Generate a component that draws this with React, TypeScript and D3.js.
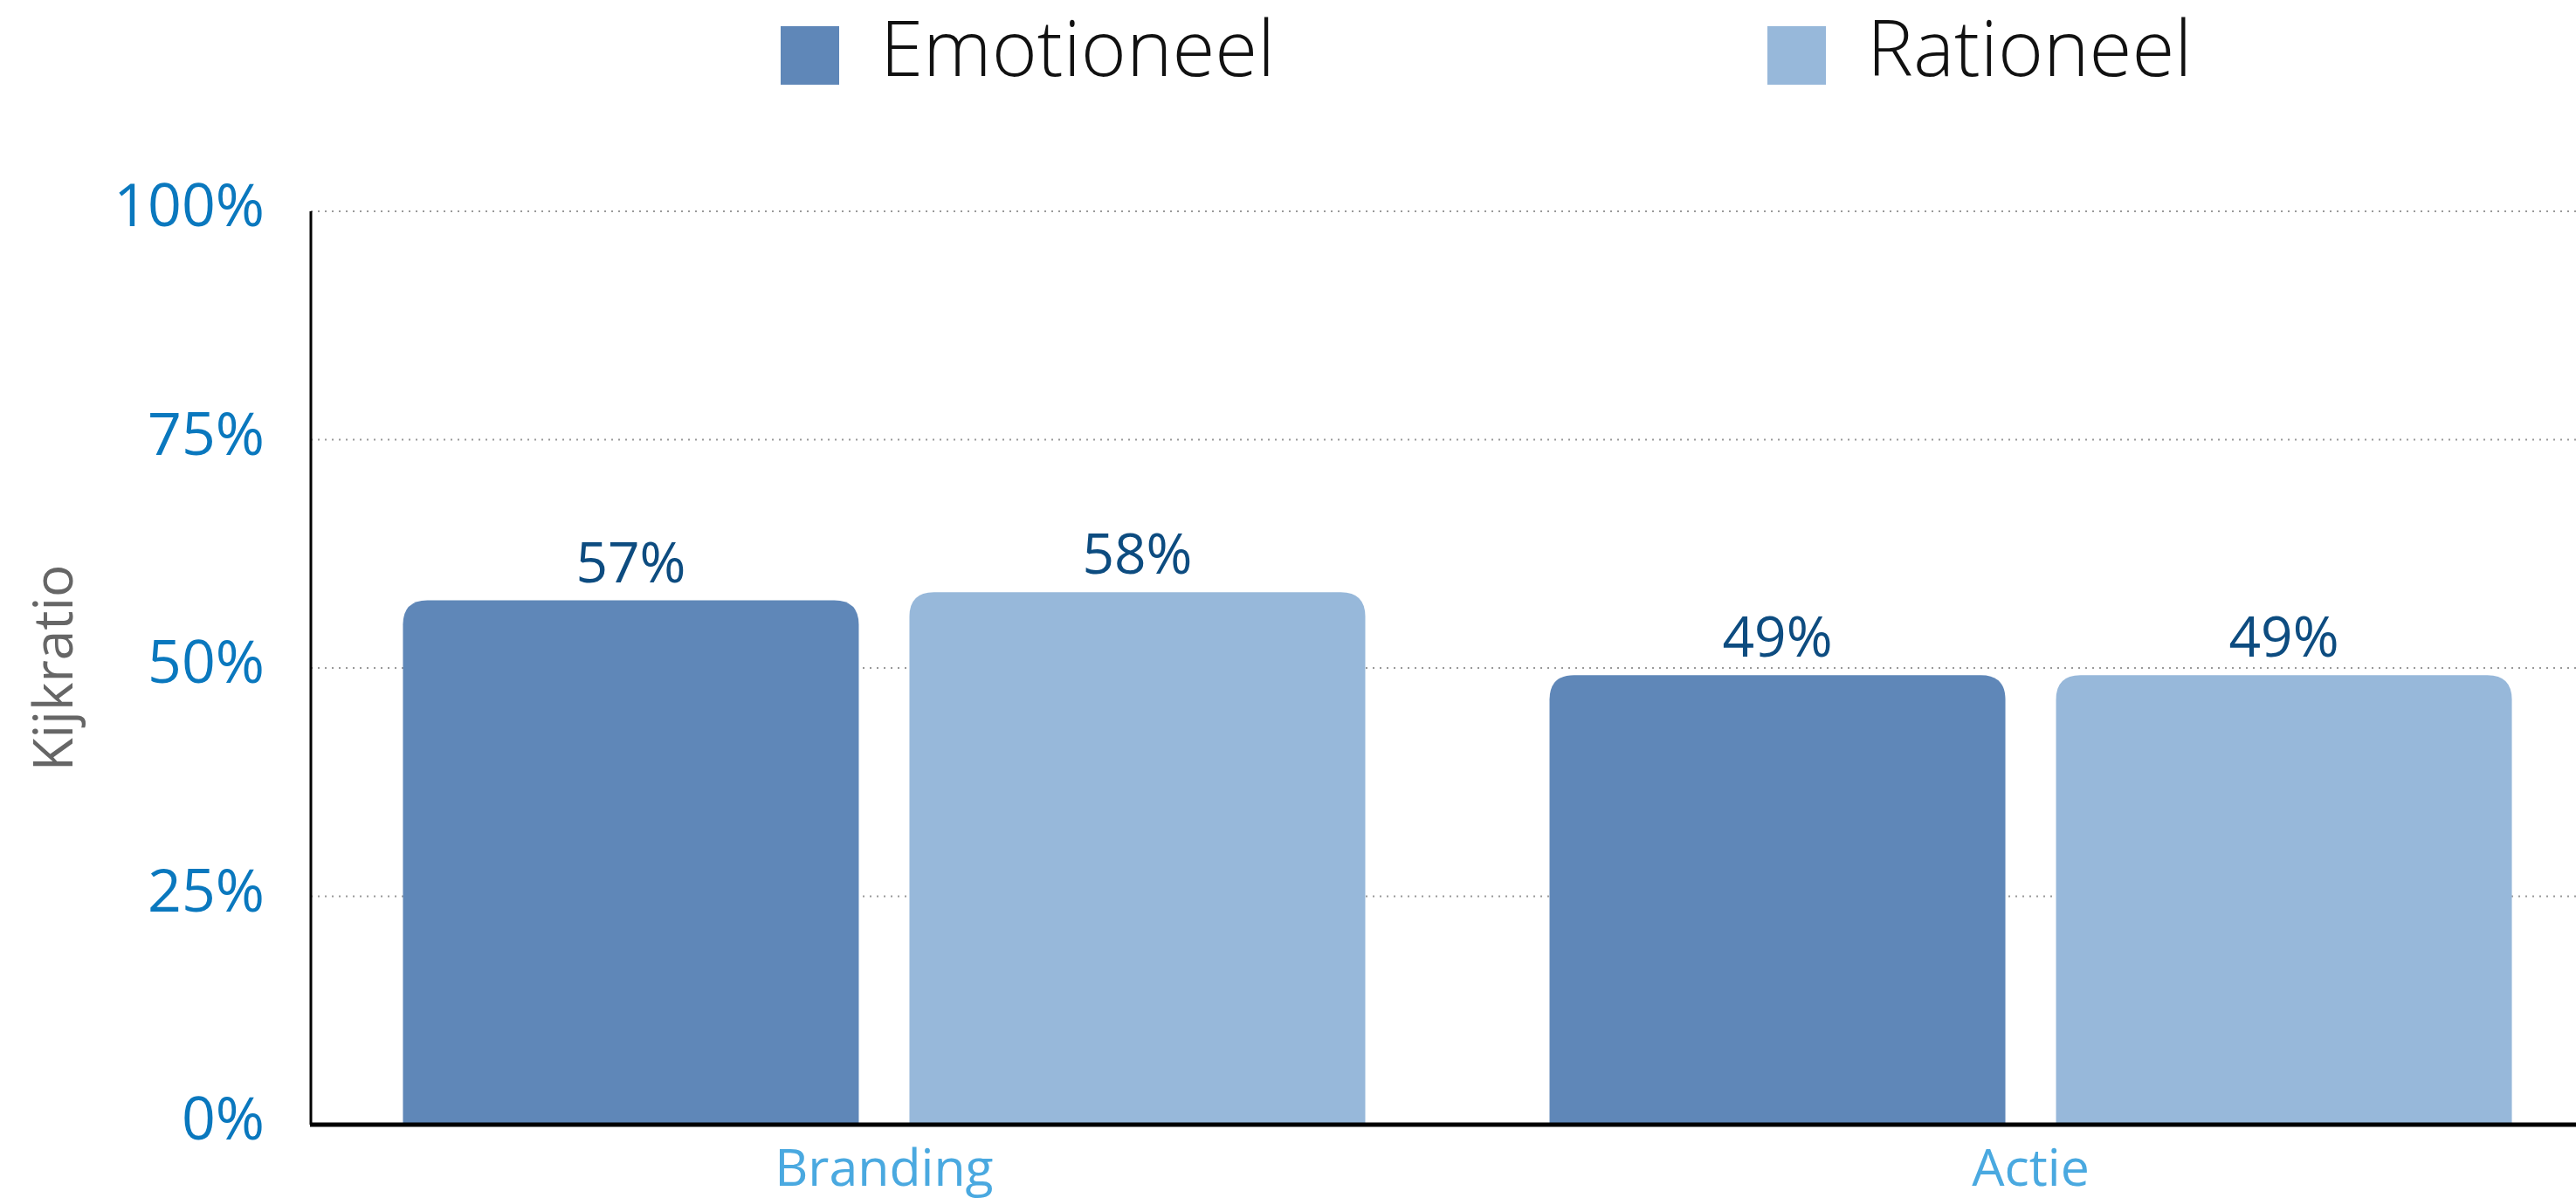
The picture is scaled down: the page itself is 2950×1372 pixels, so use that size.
import React from "react";
import * as d3 from "d3";

const categories = ["Branding", "Actie"];
const seriesNames = ["Emotioneel", "Rationeel"];
const emotioneelValues = [57.4, 49.2];
const rationeelValues = [58.3, 49.2];
const yTicks = [0, 25, 50, 75, 100];
const seriesColors = ["#5f87b8", "#97b8da"];

const W = 2950;
const H = 1372;
const margin = { left: 356, right: -32, top: 242, bottom: 84 };
const FONT = "'Open Sans', 'Noto Sans', sans-serif";
const LIGHT_FONT = "'Open Sans Light', 'Lato Light', 'Open Sans', sans-serif";

function topRoundedRect(x: number, y: number, w: number, h: number, r: number) {
  const rr = Math.min(r, w / 2, h);
  return `M${x},${y + h}V${y + rr}Q${x},${y} ${x + rr},${y}H${x + w - rr}Q${x + w},${y} ${x + w},${y + rr}V${y + h}Z`;
}

export default function App() {
  const x0 = d3
    .scaleBand<string>()
    .domain(categories)
    .range([margin.left, W - margin.right])
    .paddingInner(0.1607)
    .paddingOuter(0.0803);
  const x1 = d3
    .scaleBand<string>()
    .domain(seriesNames)
    .range([0, x0.bandwidth()])
    .paddingInner(0.1)
    .paddingOuter(0);
  const y = d3.scaleLinear().domain([0, 100]).range([H - margin.bottom, margin.top]);

  const data = categories.map((c, i) => ({
    cat: c,
    vals: [emotioneelValues[i], rationeelValues[i]],
  }));

  const legendX = [894, 2024];

  return (
    <svg
      width={W}
      height={H}
      style={{ position: "absolute", left: 0, top: 0, background: "#fff" }}
      fontFamily={FONT}
    >
      {/* legend */}
      {seriesNames.map((s, i) => (
        <g key={s}>
          <rect x={legendX[i]} y={30} width={67} height={67} fill={seriesColors[i]} />
          <text
            x={legendX[i] + 114}
            y={87}
            fontSize={89}
            fontWeight={300}
            fontFamily={LIGHT_FONT}
            fill="#111"
          >
            {s}
          </text>
        </g>
      ))}

      {/* gridlines */}
      {yTicks.map((t) => (
        <line
          key={t}
          x1={margin.left}
          x2={W}
          y1={y(t)}
          y2={y(t)}
          stroke="#999"
          strokeWidth={2}
          strokeDasharray="2,6"
        />
      ))}

      {/* y tick labels */}
      {yTicks.map((t) => (
        <text
          key={"l" + t}
          x={303}
          y={y(t) + 17}
          textAnchor="end"
          fontSize={68}
          fill="#0a78be"
        >
          {t + "%"}
        </text>
      ))}

      {/* axis title */}
      <text
        transform={`translate(83, ${(y(0) + y(100)) / 2}) rotate(-90)`}
        textAnchor="middle"
        fontSize={62}
        fill="#666"
      >
        Kijkratio
      </text>

      {/* bars */}
      {data.map((d) => (
        <g key={d.cat} transform={`translate(${x0(d.cat)},0)`}>
          {d.vals.map((v, j) => {
            const bx = x1(seriesNames[j]) as number;
            const bw = x1.bandwidth();
            const by = y(v);
            return (
              <g key={j}>
                <path d={topRoundedRect(bx, by, bw, y(0) - by, 28)} fill={seriesColors[j]} />
                <text
                  x={bx + bw / 2}
                  y={by - 21}
                  textAnchor="middle"
                  fontSize={64}
                  fill="#0d4c80"
                >
                  {Math.round(v) + "%"}
                </text>
              </g>
            );
          })}
        </g>
      ))}

      {/* axes */}
      <line x1={margin.left} x2={margin.left} y1={y(100)} y2={y(0)} stroke="#000" strokeWidth={3} />
      <line x1={margin.left - 1} x2={W} y1={y(0)} y2={y(0)} stroke="#000" strokeWidth={5} />

      {/* category labels */}
      {categories.map((c) => (
        <text
          key={c}
          x={(x0(c) as number) + x0.bandwidth() / 2}
          y={1358}
          textAnchor="middle"
          fontSize={59}
          fill="#4aa9e0"
        >
          {c}
        </text>
      ))}
    </svg>
  );
}
